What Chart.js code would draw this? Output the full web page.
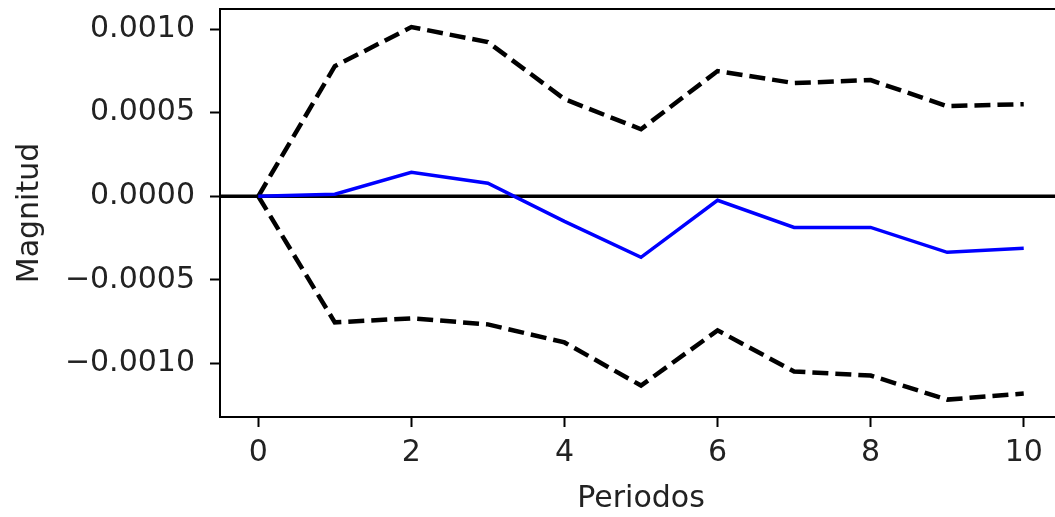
<!DOCTYPE html>
<html>
<head>
<meta charset="utf-8">
<script src="https://cdn.jsdelivr.net/npm/chart.js@4/dist/chart.umd.min.js"></script>
<style>
  html, body { margin: 0; padding: 0; background: #fff; overflow: hidden; }
  /* the original figure is cropped on the right, so the canvas runs past the window */
  #wrap { width: 1055px; height: 517px; overflow: hidden; position: relative; }
</style>
</head>
<body>
<div id="wrap"><canvas id="irf" width="1066" height="517"></canvas></div>
<script>
// impulse response, values
const periodos = [0, 1, 2, 3, 4, 5, 6, 7, 8, 9, 10];
const respuesta = [0, 0.000012, 0.000144, 0.000078, -0.00015, -0.000365, -0.000024, -0.000186, -0.000186, -0.000335, -0.000311];
const bandaSup = [0, 0.000778, 0.001012, 0.000922, 0.000581, 0.000401, 0.000749, 0.000677, 0.000695, 0.000539, 0.000551];
const bandaInf = [0, -0.000754, -0.00073, -0.000766, -0.000874, -0.001132, -0.000802, -0.001048, -0.001072, -0.001216, -0.00118];
const xTicks = [0, 2, 4, 6, 8, 10];
const yTicks = [-0.001, -0.0005, 0, 0.0005, 0.001];

const xMin = -0.5, xMax = 10.5;
const yMin = -0.00132, yMax = 0.00112;

function pts(vals) {
    return periodos.map((p, i) => ({ x: p, y: vals[i] }));
}

// full box around the plot, right side ends up outside the window
const frame = {
    id: 'frame',
    afterDraw(chart) {
        const a = chart.chartArea;
        const c = chart.ctx;
        c.save();
        c.strokeStyle = '#000';
        c.lineWidth = 2;
        c.strokeRect(a.left, a.top, a.right - a.left, a.bottom - a.top);
        c.restore();
    }
};

const font = { family: 'DejaVu Sans', size: 30 };

const ctx = document.getElementById('irf');
const chart = new Chart(ctx, {
    type: 'line',
    data: {
        datasets: [
            { data: pts(respuesta), borderColor: '#0000ff', borderWidth: 3.5, pointRadius: 0, tension: 0 },
            { data: [{ x: xMin, y: 0 }, { x: xMax, y: 0 }], borderColor: '#000', borderWidth: 3.5, pointRadius: 0 },
            { data: pts(bandaSup), borderColor: '#000', borderWidth: 4.5, borderDash: [16, 7], pointRadius: 0 },
            { data: pts(bandaInf), borderColor: '#000', borderWidth: 4.5, borderDash: [16, 7], pointRadius: 0 }
        ]
    },
    options: {
        responsive: false,
        animation: false,
        layout: { padding: { left: 0, right: 4, top: 9, bottom: 0 } },
        plugins: { legend: { display: false }, tooltip: { enabled: false } },
        scales: {
            x: {
                type: 'linear',
                min: xMin,
                max: xMax,
                afterBuildTicks: s => { s.ticks = xTicks.map(v => ({ value: v })); },
                afterFit: s => { s.height = 100; s.paddingLeft = 0; s.paddingRight = 0; },
                grid: { drawOnChartArea: false, drawTicks: true, tickLength: 10, tickWidth: 2, color: '#000' },
                border: { display: true, color: '#000', width: 2 },
                ticks: { color: '#222', font: font, padding: 8, maxRotation: 0, callback: v => String(v) },
                title: { display: true, text: 'Periodos', color: '#222', font: font, padding: { top: 2, bottom: 0 } }
            },
            y: {
                min: yMin,
                max: yMax,
                afterBuildTicks: s => { s.ticks = yTicks.map(v => ({ value: v })); },
                afterFit: s => { s.width = 220; s.paddingTop = 0; s.paddingBottom = 0; },
                grid: { drawOnChartArea: false, drawTicks: true, tickLength: 10, tickWidth: 2, color: '#000' },
                border: { display: true, color: '#000', width: 2 },
                ticks: {
                    color: '#222', font: font, padding: 15,
                    callback: v => (v < 0 ? '\u2212' : '') + Math.abs(v).toFixed(4)
                },
                title: { display: true, text: 'Magnitud', color: '#222', font: font, padding: { top: 12, bottom: 0 } }
            }
        }
    },
    plugins: [frame]
});
</script>
</body>
</html>
